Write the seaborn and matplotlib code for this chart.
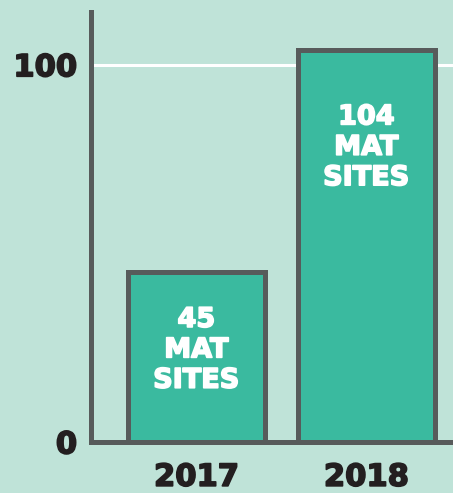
import matplotlib
matplotlib.use('agg')
from matplotlib import pyplot as plt
import matplotlib.patheffects as pe
import pandas as pd
import seaborn as sns

years = ["2017", "2018"]
sites = [45, 104]
bar_text = ["45\nMAT\nSITES", "104\nMAT\nSITES"]
y_ticks = [0, 100]

bg = "#bfe3d8"
bar_col = "#3aba9f"
edge_col = "#575b5b"
ink = "#231f20"

sns.set_style("white")
plt.rcParams['font.family'] = ['DejaVu Sans']

df = pd.DataFrame({"year": years, "sites": sites})

fig = plt.figure(figsize=(4.53, 4.93), dpi=100, facecolor=bg)
ax = fig.add_axes([0.2009, 0.1034, 0.7991, 0.8723])
ax.set_facecolor(bg)

ax.axhline(100, color="white", lw=2.2, zorder=0)
sns.barplot(data=df, x="year", y="sites", ax=ax, color=bar_col, saturation=1,
            width=0.806, edgecolor=edge_col, linewidth=3.6, zorder=2)

# label heights inside the bars
label_frac = [0.54, 0.75]
for i, (v, t) in enumerate(zip(sites, bar_text)):
    ax.text(i, v * label_frac[i], t, ha="center", va="center", color="white",
            fontsize=19.5, fontweight="bold", linespacing=1.22, zorder=3,
            path_effects=[pe.withStroke(linewidth=1.2, foreground="white")])

ax.set_xlim(-0.62, 1.51)
ax.set_ylim(0, 114)
ax.set_yticks(y_ticks)
ax.set_xlabel("")
ax.set_ylabel("")
ax.tick_params(axis="both", length=0, labelsize=22, labelcolor=ink)
ax.tick_params(axis="y", pad=10)
ax.tick_params(axis="x", pad=15)
for lab in ax.get_xticklabels() + ax.get_yticklabels():
    lab.set_fontweight("bold")
    lab.set_path_effects([pe.withStroke(linewidth=1.2, foreground=ink)])

for s in ["top", "right"]:
    ax.spines[s].set_visible(False)
for s in ["left", "bottom"]:
    ax.spines[s].set_color(edge_col)
    ax.spines[s].set_linewidth(3.6)
    ax.spines[s].set_zorder(4)

plt.savefig("out.png", dpi=100, facecolor=bg)
